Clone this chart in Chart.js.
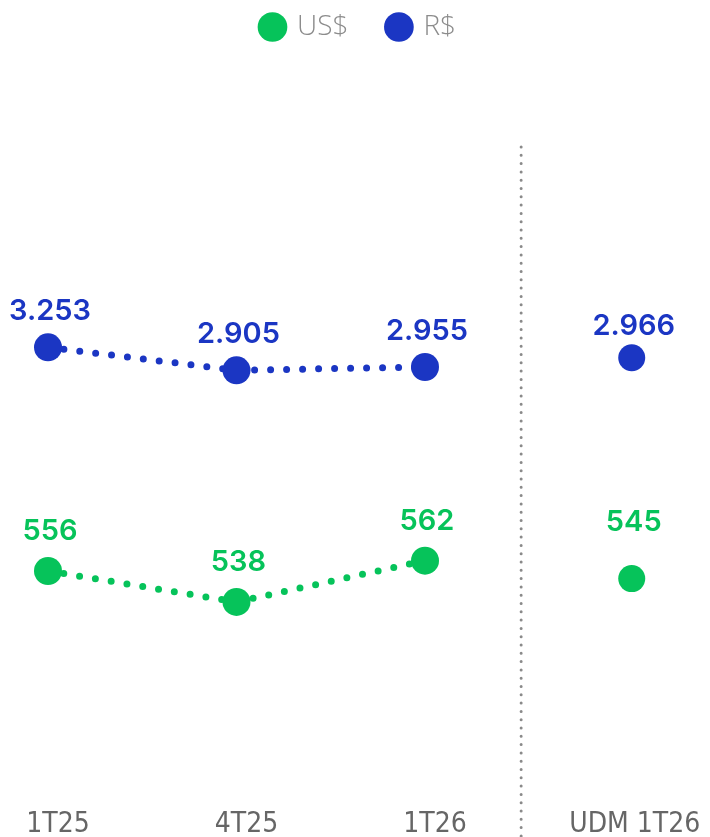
<!DOCTYPE html>
<html><head><meta charset="utf-8">
<script src="https://cdn.jsdelivr.net/npm/chart.js@4.4.1/dist/chart.umd.min.js"></script>
<style>
html,body{margin:0;padding:0;background:#fff;}
#wrap{position:relative;width:710px;height:837px;overflow:hidden;}
#main{position:absolute;left:0;top:0;}
#side{position:absolute;left:524px;top:0;}
</style></head><body>
<div id="wrap"><canvas id="main" width="710" height="837"></canvas><canvas id="side" width="186" height="837"></canvas></div>
<script>
const quarterLabels = ['1T25', '4T25', '1T26'];
const ltmLabels = ['UDM 1T26'];
const seriesNames = ['US$', 'R$'];
const usdQuarterly = [556, 538, 562];
const brlQuarterly = [3253, 2905, 2955];
const usdLtm = [545];
const brlLtm = [2966];

const GREEN = '#06C35A';
const BLUE = '#1B36C3';
const TICK_FONT = {family: "'Liberation Sans Narrow','DejaVu Sans Condensed','Roboto'", size: 28, weight: '300'};

function fmt(v){ return String(v).replace(/\B(?=(\d{3})+(?!\d))/g, '.'); }

const valueLabels = {
  id: 'valueLabels',
  afterDatasetsDraw(chart){
    const ctx = chart.ctx;
    chart.data.datasets.forEach((ds, i) => {
      const meta = chart.getDatasetMeta(i);
      meta.data.forEach((pt, j) => {
        ctx.save();
        ctx.font = "600 29px Inter, 'Open Sans'";
        ctx.fillStyle = ds.borderColor;
        ctx.textAlign = 'center';
        ctx.textBaseline = 'alphabetic';
        ctx.fillText(fmt(ds.data[j]), pt.x + 2, pt.y - ds.labelOffset);
        ctx.restore();
      });
    });
  }
};

const separator = {
  id: 'separator',
  afterDraw(chart, args, opts){
    const x = chart.scales.x.getPixelForValue(opts.at);
    const ctx = chart.ctx;
    ctx.save();
    ctx.strokeStyle = '#8a8a8a';
    ctx.lineWidth = 3;
    ctx.lineCap = 'round';
    ctx.setLineDash([0, 8.3]);
    ctx.beginPath();
    ctx.moveTo(x, opts.top);
    ctx.lineTo(x, chart.height);
    ctx.stroke();
    ctx.restore();
  }
};

function lineDataset(label, data, color, axis, radius, labelOffset){
  return {
    label, data, yAxisID: axis,
    borderColor: color, backgroundColor: color,
    pointBackgroundColor: color, pointBorderColor: color,
    pointRadius: radius, pointHoverRadius: radius, pointBorderWidth: 0,
    borderWidth: 7, borderDash: [0, 16], borderCapStyle: 'round',
    tension: 0, fill: false, labelOffset
  };
}

const hiddenAxis = (min, max) => ({display: false, min, max});

new Chart(document.getElementById('side'), {
  type: 'line',
  data: {
    labels: ltmLabels,
    datasets: [
      lineDataset(seriesNames[0], usdLtm, GREEN, 'yU', 13.5, 48),
      lineDataset(seriesNames[1], brlLtm, BLUE, 'yR', 13.5, 23)
    ]
  },
  options: {
    responsive: false, animation: false, devicePixelRatio: 1,
    layout: {padding: {left: 52, right: 0, top: 50, bottom: -11}},
    plugins: {legend: {display: false}, tooltip: {enabled: false}},
    scales: {
      x: {type: 'category', offset: true, grid: {display: false}, border: {display: false},
          ticks: {font: TICK_FONT, color: '#666', labelOffset: 3, maxRotation: 0, autoSkip: false, padding: 6}},
      yR: hiddenAxis(-3647, 7626),
      yU: hiddenAxis(419.6, 852.2)
    }
  },
  plugins: [valueLabels]
});

new Chart(document.getElementById('main'), {
  type: 'line',
  data: {
    labels: quarterLabels,
    datasets: [
      lineDataset(seriesNames[0], usdQuarterly, GREEN, 'yU', 14, 31),
      lineDataset(seriesNames[1], brlQuarterly, BLUE, 'yR', 14, 27)
    ]
  },
  options: {
    responsive: false, animation: false, devicePixelRatio: 1,
    layout: {padding: {left: 48, right: 40, top: -27, bottom: -11}},
    plugins: {
      tooltip: {enabled: false},
      separator: {top: 147, at: 2.51},
      legend: {
        position: 'top', align: 'center',
        labels: {
          usePointStyle: true, pointStyle: 'circle', boxWidth: 21, boxHeight: 21, padding: 40,
          color: '#8c8c8c', font: {family: "'Open Sans'", size: 28, weight: '300'},
          generateLabels(chart){
            const items = Chart.defaults.plugins.legend.labels.generateLabels(chart);
            items.forEach(it => { it.lineWidth = 0; it.lineDash = []; it.strokeStyle = it.fillStyle; });
            return items;
          }
        }
      }
    },
    scales: {
      x: {type: 'category', offset: false, grid: {display: false}, border: {display: false},
          ticks: {font: TICK_FONT, color: '#666', labelOffset: 10, maxRotation: 0, autoSkip: false, padding: 6}},
      yR: hiddenAxis(-3526, 7747),
      yU: {position: 'right', min: 426, max: 858.6, display: true,
           grid: {display: false}, border: {display: false}, ticks: {display: false},
           afterFit(scale){ scale.width = 245; }}
    }
  },
  plugins: [valueLabels, separator]
});
</script>
</body></html>
